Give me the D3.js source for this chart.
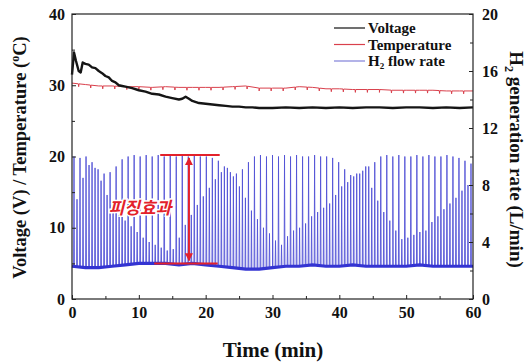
<!DOCTYPE html>
<html><head><meta charset="utf-8">
<script src="https://cdn.jsdelivr.net/npm/d3@7"></script>
<style>body{margin:0;background:#fff}svg{display:block}</style>
</head><body><svg id="c" width="528" height="364"></svg>
<script>
// ---- data ----
const xTicks = [0,10,20,30,40,50,60];
const leftTicks = [0,10,20,30,40];
const rightTicks = [0,4,8,12,16,20];
const voltageT = [0,0.3,0.6,1.0,1.3,1.6,2,2.5,3,3.5,4,4.5,5,5.5,6,6.5,7,7.5,8,9,10,11,12,13,14,15,16,16.5,17,17.5,18,19,20,21,22,23,24,25,26,27,28,29,30,32,34,36,38,40,42,44,46,48,50,52,54,56,58,60];
const voltageV = [31.5,34.6,33.4,32.0,31.8,33.2,33.0,32.9,32.5,32.4,32.0,31.7,31.3,31.1,30.6,30.4,30.0,29.9,29.8,29.6,29.3,29.1,28.8,28.7,28.4,28.2,28.0,28.1,28.4,28.1,27.8,27.5,27.4,27.3,27.2,27.1,27.0,27.0,26.9,26.9,26.8,26.8,26.8,26.9,26.8,26.9,26.8,26.9,26.8,26.9,26.9,26.8,26.9,26.9,26.8,26.9,26.8,26.9];
const tempT = [0,2,4,6,8,10,12,14,16,18,20,22,24,26,28,30,32,34,36,38,40,42,44,46,48,50,52,54,56,58,60];
const tempV = [30.3,30.1,29.9,29.9,29.8,29.8,29.7,29.8,29.7,29.7,29.7,29.7,29.8,29.9,29.6,29.6,29.6,29.8,29.7,29.5,29.5,29.4,29.4,29.4,29.3,29.3,29.3,29.3,29.2,29.2,29.2];
const tempDipT = [1.0,2.8,4.6,6.4,8.2,10.0,11.8,13.6,15.4,17.2,19.0,20.8,22.6,24.4,26.2,28.0,29.8,31.6,33.4,35.2,37.0,38.8,40.6,42.4,44.2,46.0,47.8,49.6,51.4,53.2,55.0,56.8,58.6];
const tempDipDepth = 0.4;
const baseT = [0,2,4,6,8,10,12,14,16,18,20,22,24,26,28,30,32,34,36,38,40,42,44,46,48,50,52,54,56,58,60];
const baseV = [2.3,2.2,2.2,2.3,2.4,2.5,2.5,2.5,2.4,2.5,2.4,2.3,2.2,2.1,2.1,2.2,2.3,2.3,2.4,2.3,2.3,2.4,2.3,2.3,2.3,2.3,2.4,2.3,2.3,2.3,2.3];
const spikePeriod = 0.9, spikeAStart = 0.3, spikeBStart = 0.75;
const spikeA = [10.0,9.9,10.0,9.6,9.1,8.8,8.9,9.3,9.8,10.0,10.1,10.0,10.1,10.0,10.1,10.0,10.1,10.0,10.1,10.0,10.1,10.0,10.0,9.9,9.7,9.3,8.9,8.8,9.1,9.6,10.0,10.1,
  10.0,10.1,10.0,10.1,10.0,10.1,10.0,10.0,10.1,10.0,10.0,9.9,9.6,9.1,8.7,8.8,9.0,9.3,9.6,10.0,
  10.1,10.0,10.1,10.0,10.0,10.1,10.0,10.1,10.0,10.0,10.1,10.0,9.9,9.7,9.5];
const spikeB = [7.0,8.5,9.4,9.2,8.3,7.3,6.6,5.9,5.5,5.1,4.7,4.3,4.0,3.8,3.6,3.4,3.5,4.3,5.2,5.9,6.6,7.2,7.8,8.4,8.9,9.2,
  8.6,7.9,7.1,6.2,5.6,5.0,4.6,4.1,3.8,4.4,4.8,5.0,5.3,5.8,6.1,6.4,6.7,7.3,7.9,8.2,8.6,8.8,9.3,
  7.8,6.9,6.1,5.5,4.8,4.2,4.3,4.5,4.7,4.8,5.4,5.8,6.3,6.7,7.1,7.6,8.0];
const legendLabels = ["Voltage","Temperature","H2 flow rate"];

// ---- chart ----
const svg = d3.select("#c");
const L=72,R=473,T=14,B=299;
const x = d3.scaleLinear([0,60],[L,R]);
const yL = d3.scaleLinear([0,40],[B,T]);
const yR = d3.scaleLinear([0,20],[B,T]);
const font = "'Liberation Serif','Times New Roman',serif";

// blue series
const baseAt = t => d3.scaleLinear(baseT, baseV).clamp(true)(t);
const pts = [];
baseT.forEach((t,i)=>pts.push([t,baseV[i]]));
const w = 0.06;
spikeA.forEach((h,i)=>{const t=spikeAStart+i*spikePeriod; pts.push([t-w,baseAt(t-w)],[t,h],[t+w,baseAt(t+w)]);});
spikeB.forEach((h,i)=>{const t=spikeBStart+i*spikePeriod; pts.push([t-w,baseAt(t-w)],[t,h],[t+w,baseAt(t+w)]);});
pts.sort((a,b)=>a[0]-b[0]);
const lineR = d3.line().x(d=>x(d[0])).y(d=>yR(d[1]));
svg.append("path").attr("d",lineR(pts)).attr("fill","none").attr("stroke","#5252d6").attr("stroke-width",0.9);
svg.append("path").attr("d",lineR(baseT.map((t,i)=>[t,baseV[i]]))).attr("fill","none").attr("stroke","#3434d2").attr("stroke-width",3.2);

// temperature
const tBase = d3.scaleLinear(tempT,tempV);
const tp = tempT.map((t,i)=>[t,tempV[i]]);
tempDipT.forEach(t=>{tp.push([t-0.05,tBase(t-0.05)],[t,tBase(t)-tempDipDepth],[t+0.05,tBase(t+0.05)]);});
tp.sort((a,b)=>a[0]-b[0]);
const lineL = d3.line().x(d=>x(d[0])).y(d=>yL(d[1]));
svg.append("path").attr("d",lineL(tp)).attr("fill","none").attr("stroke","#d9404c").attr("stroke-width",1);

// voltage
svg.append("path").attr("d",lineL(voltageT.map((t,i)=>[t,voltageV[i]]))).attr("fill","none").attr("stroke","#151515").attr("stroke-width",2.4).attr("stroke-linejoin","round");

// frame
svg.append("rect").attr("x",L).attr("y",T).attr("width",R-L).attr("height",B-T).attr("fill","none").attr("stroke","#222").attr("stroke-width",1.2);

// axes
function styleAxis(g){g.select(".domain").remove();g.selectAll("line").attr("stroke","#222");g.selectAll("text").attr("font-family",font).attr("font-weight","bold").attr("font-size","16px").attr("fill","#111");}
svg.append("g").attr("transform",`translate(0,${B})`).call(d3.axisBottom(x).tickValues(xTicks).tickSize(-4).tickPadding(8).tickFormat(d3.format("d"))).call(styleAxis);
svg.append("g").attr("transform",`translate(0,${B})`).call(d3.axisBottom(x).tickValues([5,15,25,35,45,55]).tickSize(-3).tickFormat("")).call(styleAxis);
svg.append("g").attr("transform",`translate(${L},0)`).call(d3.axisLeft(yL).tickValues(leftTicks).tickSize(-4).tickPadding(7)).call(styleAxis);
svg.append("g").attr("transform",`translate(${L},0)`).call(d3.axisLeft(yL).tickValues([5,15,25,35]).tickSize(-3).tickFormat("")).call(styleAxis);
svg.append("g").attr("transform",`translate(${R},0)`).call(d3.axisRight(yR).tickValues(rightTicks).tickSize(-4).tickPadding(9)).call(styleAxis);
svg.append("g").attr("transform",`translate(${R},0)`).call(d3.axisRight(yR).tickValues([2,6,10,14,18]).tickSize(-3).tickFormat("")).call(styleAxis);

// axis titles
svg.append("text").attr("x",273).attr("y",357).attr("text-anchor","middle").attr("font-family",font).attr("font-weight","bold").attr("font-size","21px").attr("fill","#111").text("Time (min)");
const lt = svg.append("text").attr("transform",`translate(26,${(T+B)/2+1}) rotate(-90)`).attr("text-anchor","middle").attr("font-family",font).attr("font-weight","bold").attr("font-size","18.5px").attr("fill","#111");
lt.append("tspan").text("Voltage (V) / Temperature (");
lt.append("tspan").attr("dy","-7").attr("font-size","12px").text("o");
lt.append("tspan").attr("dy","7").text("C)");
const rt = svg.append("text").attr("transform",`translate(510,${(T+B)/2+3}) rotate(90)`).attr("text-anchor","middle").attr("font-family",font).attr("font-weight","bold").attr("font-size","19px").attr("fill","#111");
rt.append("tspan").text("H");
rt.append("tspan").attr("dy","5").attr("font-size","12px").text("2");
rt.append("tspan").attr("dy","-5").text(" generation rate (L/min)");

// legend
const legColors = ["#111","#d9404c","#8080d8"];
legendLabels.forEach((lab,i)=>{
  const yy = 28 + i*16.5;
  svg.append("line").attr("x1",334).attr("x2",365).attr("y1",yy).attr("y2",yy).attr("stroke",legColors[i]).attr("stroke-width",1.2);
  const tx = svg.append("text").attr("x",368).attr("y",yy+5).attr("font-family",font).attr("font-weight","bold").attr("font-size","15px").attr("fill","#111");
  if(lab.startsWith("H2")){tx.append("tspan").text("H");tx.append("tspan").attr("dy","3").attr("font-size","9px").text("2");tx.append("tspan").attr("dy","-3").text(" flow rate");}
  else tx.text(lab);
});

// annotation
const red = "#e3212b";
const defs = svg.append("defs");
defs.append("marker").attr("id","ah").attr("viewBox","0 0 10 10").attr("refX",9).attr("refY",5).attr("markerWidth",4).attr("markerHeight",4).attr("orient","auto-start-reverse")
  .append("path").attr("d","M0,0L10,5L0,10z").attr("fill",red);
svg.append("line").attr("x1",x(13.2)).attr("x2",x(22.1)).attr("y1",yR(10.1)).attr("y2",yR(10.1)).attr("stroke",red).attr("stroke-width",2);
svg.append("line").attr("x1",x(12.3)).attr("x2",x(21.8)).attr("y1",yR(2.5)).attr("y2",yR(2.5)).attr("stroke",red).attr("stroke-width",2);
svg.append("line").attr("x1",x(17.5)).attr("x2",x(17.5)).attr("y1",yR(2.7)).attr("y2",yR(9.9)).attr("stroke",red).attr("stroke-width",2).attr("marker-start","url(#ah)").attr("marker-end","url(#ah)");
svg.append("text").attr("x",140).attr("y",214).attr("text-anchor","middle").attr("font-family","'Noto Sans CJK KR',sans-serif").attr("font-weight","bold").attr("font-style","italic").attr("font-size","17px")
  .attr("fill",red).attr("stroke","#fff").attr("stroke-width",3).attr("paint-order","stroke").text("피징효과");
</script></body></html>
